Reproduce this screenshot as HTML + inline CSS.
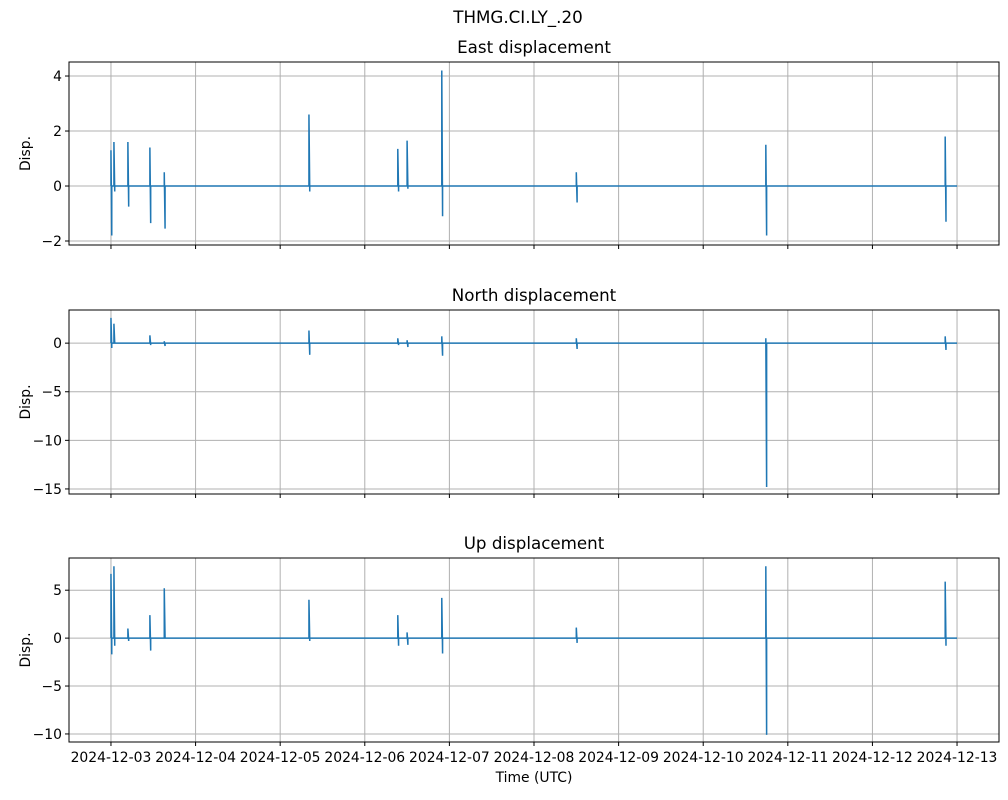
<!DOCTYPE html>
<html><head><meta charset="utf-8"><style>
body{margin:0;background:#fff;}
svg text{font-family:"DejaVu Sans","Liberation Sans",sans-serif;fill:#000;}
</style></head><body>
<svg id="fig" width="1008" height="795" xmlns="http://www.w3.org/2000/svg">
<text x="518" y="23" font-size="16.7" text-anchor="middle">THMG.CI.LY_.20</text>
<text x="534" y="782" font-size="13.9" text-anchor="middle">Time (UTC)</text>
</svg>
<script>
// time in days from 2024-12-03
const dateLabels=["2024-12-03","2024-12-04","2024-12-05","2024-12-06","2024-12-07","2024-12-08","2024-12-09","2024-12-10","2024-12-11","2024-12-12","2024-12-13"];
const spikeTimes=[0,0.035,0.2,0.46,0.63,2.34,3.39,3.5,3.91,5.5,7.74,9.86];
const eastHi=[1.3,1.6,1.6,1.4,0.5,2.6,1.35,1.65,4.2,0.5,1.5,1.8];
const eastLo=[-1.8,-0.2,-0.75,-1.35,-1.55,-0.2,-0.2,-0.1,-1.1,-0.6,-1.8,-1.3];
const northHi=[2.6,2.0,0,0.8,0.2,1.3,0.5,0.3,0.7,0.5,0.5,0.7];
const northLo=[-0.5,0,0,-0.2,-0.3,-1.2,-0.2,-0.4,-1.3,-0.6,-14.8,-0.7];
const upHi=[6.7,7.5,1.0,2.4,5.2,4.0,2.4,0.6,4.2,1.1,7.5,5.9];
const upLo=[-1.7,-0.8,-0.3,-1.3,0,-0.3,-0.8,-0.7,-1.6,-0.5,-10.1,-0.8];
const eastTicks=[-2,0,2,4], northTicks=[-15,-10,-5,0], upTicks=[-10,-5,0,5];

const svg=document.getElementById('fig');
const NS="http://www.w3.org/2000/svg";
const L=69,R=999;
const xs=t=>L+(t+0.496)/(10.992)*(R-L);
function el(tag,attrs,parent){const e=document.createElementNS(NS,tag);for(const k in attrs)e.setAttribute(k,attrs[k]);(parent||svg).appendChild(e);return e;}

const panels=[
 {name:'east',title:'East displacement',top:62,bot:245,ymin:-2.145,ymax:4.51,hi:eastHi,lo:eastLo,ticks:eastTicks},
 {name:'north',title:'North displacement',top:310,bot:494,ymin:-15.52,ymax:3.41,hi:northHi,lo:northLo,ticks:northTicks},
 {name:'up',title:'Up displacement',top:558,bot:742,ymin:-10.84,ymax:8.36,hi:upHi,lo:upLo,ticks:upTicks}
];
panels.forEach((p,pi)=>{
 const ys=v=>p.bot-(v-p.ymin)/(p.ymax-p.ymin)*(p.bot-p.top);
 const g=el('g',{});
 
 
 const t=el('text',{x:(L+R)/2,y:p.top-9,'font-size':16.7,'text-anchor':'middle'},g);
 
 
 t.textContent=p.title;
 dateLabels.forEach((d,i)=>{
  const x=xs(i);
  const gl=el('line',{x1:x,x2:x,y1:p.top,y2:p.bot,stroke:'#b0b0b0','stroke-width':1},g);
  
  
  el('line',{x1:x,x2:x,y1:p.bot,y2:p.bot+4,stroke:'#000','stroke-width':1},g);
  if(pi===2){
   const tl=el('text',{x:x,y:p.bot+20,'font-size':13.9,'text-anchor':'middle'},g);
   
   
   tl.textContent=d;
  }
 });
 p.ticks.forEach(v=>{
  const y=ys(v);
  const gl=el('line',{x1:L,x2:R,y1:y,y2:y,stroke:'#b0b0b0','stroke-width':1},g);
  
  
  el('line',{x1:L-4,x2:L,y1:y,y2:y,stroke:'#000','stroke-width':1},g);
  const tl=el('text',{x:L-7,y:y+5,'font-size':13.9,'text-anchor':'end'},g);
  
  
  tl.textContent=String(v).replace('-','\u2212');
 });
 const yl=el('text',{x:0,y:0,'font-size':13.9,'text-anchor':'middle',transform:`translate(30,${(p.top+p.bot)/2}) rotate(-90)`},g);
 
 
 yl.textContent='Disp.';
 let d=`M${xs(0)},${ys(0)}`;
 spikeTimes.forEach((tt,i)=>{
  const x=xs(tt);
  d+=` L${x},${ys(0)} L${x},${ys(p.hi[i])} L${x+0.8},${ys(p.lo[i])} L${x+0.8},${ys(0)}`;
 });
 d+=` L${xs(10)},${ys(0)}`;
 const path=el('path',{d:d,fill:'none',stroke:'#1f77b4','stroke-width':1.5},g);
 
 
 const fr=el('rect',{x:L,y:p.top,width:R-L,height:p.bot-p.top,fill:'none',stroke:'#000','stroke-width':1},g);
 
 
});
</script>
</body></html>
